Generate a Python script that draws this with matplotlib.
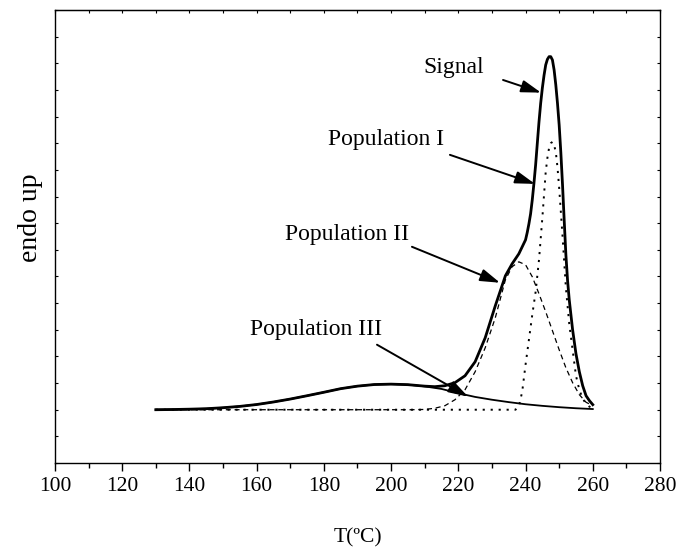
import matplotlib
matplotlib.use("Agg")
import matplotlib.pyplot as plt
from matplotlib.ticker import MultipleLocator

plt.rcParams['font.family'] = ['Liberation Serif', 'DejaVu Serif']

# DSC trace (arbitrary heat-flow units, endo up) and its three fitted populations
t_signal = [130, 135, 140, 145, 150, 155, 160, 165, 170, 175, 180, 185, 190, 195, 200,
            205, 210, 213, 216, 219, 222, 225, 228, 231, 234, 236, 238, 240, 240.5, 241,
            241.5, 242, 242.5, 243, 243.5, 244, 244.5, 245, 245.5, 246, 246.5, 247, 247.5,
            248, 248.5, 249, 249.5, 250, 250.5, 251, 251.5, 252, 252.5, 253, 254, 255, 256,
            257, 258, 259, 260]
signal = [0, 0.15, 0.4, 0.75, 1.5, 2.5, 3.9, 5.8, 8, 10.5, 13.1, 15.8, 17.7, 18.9, 19.2,
          18.8, 17.7, 17.3, 18, 20.3, 25.5, 36, 54, 78, 100.5, 109.5, 117, 127.5, 133, 139.5,
          147, 157.5, 170, 183.8, 200, 216, 230, 241.5, 251, 258.8, 263, 265, 265,
          262.5, 255, 243.8, 230, 213.8, 193, 168.8, 142, 116.3, 97, 82.5, 60, 42, 28.5,
          18, 10.5, 6.8, 3.8]

t_pop1 = [130, 237, 238, 239, 240, 241, 242, 243, 244, 245, 246, 246.5, 247, 247.5, 248,
          248.5, 249, 249.5, 250, 251, 252, 253, 254, 255, 256, 257, 258, 259, 260]
pop1 = [0, 0, 2.3, 13.5, 33.8, 52.5, 71.3, 88.5, 112.5, 144, 178.5, 189, 196.5, 200, 201,
        198.5, 193.5, 182, 166.5, 130.5, 91.5, 64.5, 45, 25.5, 15, 8.3, 4.5, 2.3, 1.1]

t_pop2 = [130, 200, 206, 210, 213, 216, 219, 222, 225, 228, 231, 234, 236, 238, 240,
          242, 244, 246, 248, 250, 252, 254, 256, 258, 260]
pop2 = [0, 0, 0, 0.2, 1.1, 3, 7.5, 15, 28.5, 46.5, 69, 97.5, 107.3, 111, 108.8,
        99.8, 87, 73.5, 59.3, 45, 31.5, 20.3, 11.3, 5.6, 3]

t_pop3 = [130, 135, 140, 145, 150, 155, 160, 165, 170, 175, 180, 185, 190, 195, 200,
          205, 210, 215, 220, 225, 230, 235, 240, 245, 250, 255, 260]
pop3 = [0, 0.15, 0.4, 0.75, 1.5, 2.5, 3.9, 5.8, 8.0, 10.5, 13.1, 15.8, 17.7, 18.9, 19.2,
        18.8, 17.5, 15.6, 12.4, 9.6, 7.5, 5.7, 4.1, 2.9, 1.9, 1.1, 0.5]

fig = plt.figure(figsize=(6.88, 5.6), dpi=100)
ax = fig.add_axes([0.0799, 0.1732, 0.8794, 0.8089])

ax.plot(t_pop2, pop2, color='black', lw=0.9, dashes=(4, 3))
ax.plot(t_pop1, pop1, color='black', lw=1.4, dashes=(1.1, 3.0))
ax.plot(t_pop3, pop3, color='black', lw=1.3)
ax.plot(t_signal, signal, color='black', lw=2.0, solid_joinstyle='round')

ax.set_xlim(100, 280)
ax.set_ylim(-40, 300)

# bottom axis: labelled majors, outward ticks
ax.xaxis.set_major_locator(MultipleLocator(20))
ax.xaxis.set_minor_locator(MultipleLocator(10))
ax.tick_params(axis='x', which='major', direction='out', length=6, width=1,
               labelsize=15.5, pad=4, top=False)
ax.tick_params(axis='x', which='minor', direction='out', length=3.5, width=1, top=False)

# small inward ticks on the other three sides
ax.yaxis.set_major_locator(MultipleLocator(20))
ax.tick_params(axis='y', which='both', direction='in', length=2.5, width=0.8,
               left=True, right=True, labelleft=False)
top = ax.secondary_xaxis('top')
top.xaxis.set_major_locator(MultipleLocator(10))
top.tick_params(direction='in', length=2.5, width=0.8, labeltop=False)

for side in ['left', 'right', 'bottom']:
    ax.spines[side].set_linewidth(1.0)
top.spines['top'].set_linewidth(1.0)

ax.set_xlabel('T(ºC)', fontsize=15.5, labelpad=23)
fig.text(0.044, 0.612, 'endo up', rotation=90, fontsize=20, ha='center', va='center')

# labels with arrows pointing at each curve
labels = ['Signal', 'Population I', 'Population II', 'Population III']
label_pos = [(218.7, 257), (198.5, 202.5), (187, 131.3), (177.7, 60)]
arrow_tail = [(233.3, 247.5), (217.5, 191.3), (206.2, 122.3), (195.8, 48.8)]
arrow_tip = [(244.6, 238), (242.8, 169.5), (232.4, 95.3), (222.9, 9.8)]

for text, pos, tail, tip in zip(labels, label_pos, arrow_tail, arrow_tip):
    ax.text(pos[0], pos[1], text, fontsize=17, ha='center', va='center')
    ax.annotate('', xy=tip, xytext=tail,
                arrowprops=dict(arrowstyle='-|>,head_length=0.8,head_width=0.25',
                                color='black', lw=1.4, mutation_scale=15,
                                shrinkA=0, shrinkB=0))

fig.savefig('out.png', dpi=100)
